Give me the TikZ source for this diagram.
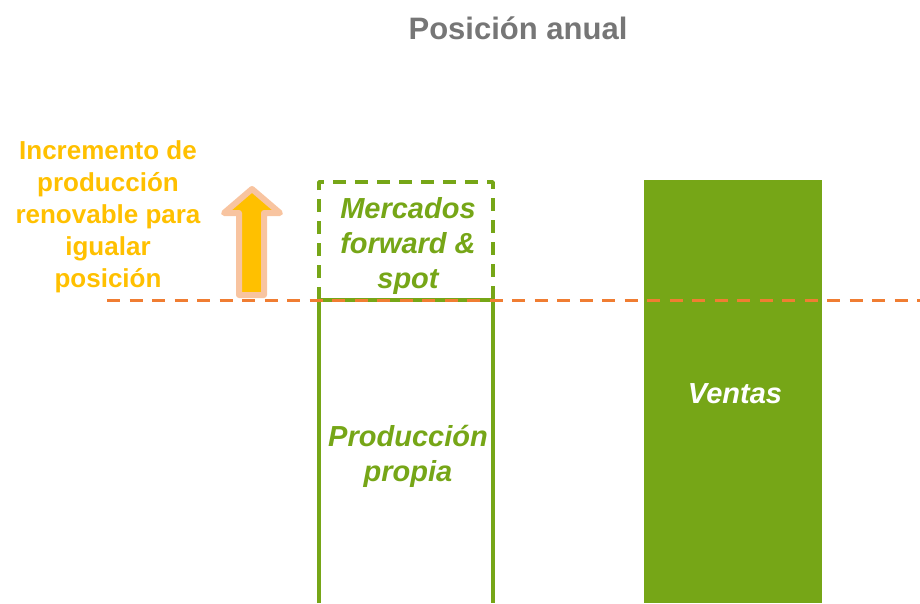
\documentclass[tikz,border=0pt]{standalone}
\usepackage{fontspec}
\setmainfont{Liberation Sans}
\definecolor{verde}{RGB}{118,166,23}
\definecolor{naranja}{RGB}{240,125,50}
\definecolor{amarillo}{RGB}{255,192,0}
\definecolor{salmon}{RGB}{248,196,160}
\definecolor{gris}{RGB}{118,118,118}
\tikzset{
  etiqueta/.style={inner sep=0pt, align=center, font=\fontsize{29}{35}\selectfont\bfseries\itshape},
  nota/.style={inner sep=0pt, align=center, text=amarillo, font=\fontsize{26}{32}\selectfont\bfseries},
}
\begin{document}
\begin{tikzpicture}[x=1pt, y=-1pt, line join=round]
	\useasboundingbox (0,0) rectangle (920,603);
	% titulo
	\node[inner sep=0pt, text=gris, font=\fontsize{31}{36}\selectfont\bfseries] (titulo) at (518,28) {Posición anual};
	% barras
	\fill[verde] (644,180) rectangle (822,603);
	\draw[verde, line width=3.5pt, dash pattern=on 13pt off 9pt] (319,300) -- (319,182) -- (493,182) -- (493,300);
	\draw[verde, line width=4pt] (319,603) -- (319,300) -- (493,300) -- (493,603);
	% linea de posicion
	\draw[naranja, line width=3pt, dash pattern=on 13pt off 9.5pt] (107,300) -- (920,300);
	% flecha
	\draw[salmon, line width=6pt, fill=amarillo] (239,295) -- (239,213) -- (224,213) -- (252,189)
		-- (280,213) -- (264,213) -- (264,295) -- cycle;
	% textos
	\node[etiqueta, text=verde] (mercados) at (408,246) {Mercados\\forward \&\\spot};
	\node[etiqueta, text=verde] (propia) at (408,456) {Producción\\propia};
	\node[etiqueta, text=white] (ventas) at (735,394) {Ventas};
	\node[nota] (incremento) at (108,217) {Incremento de\\producción\\renovable para\\igualar\\posición};
\end{tikzpicture}
\end{document}
